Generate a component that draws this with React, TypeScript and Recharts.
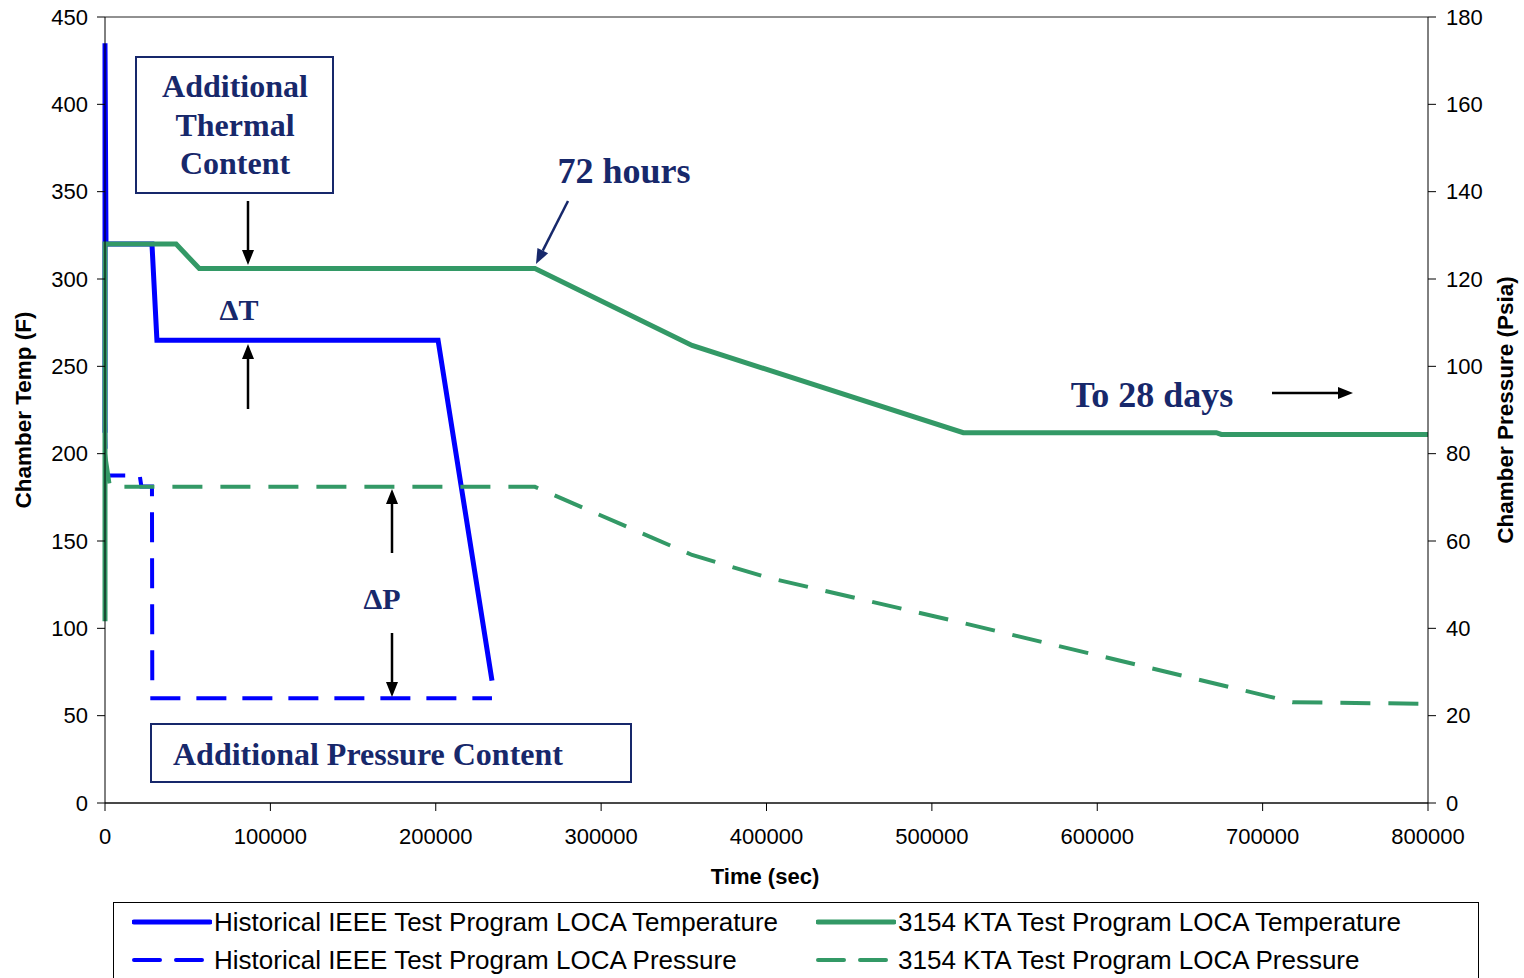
import React from 'react';
import { LineChart, Line, XAxis, YAxis, CartesianGrid } from 'recharts';

// time (sec) / value pairs
const ieeeTemp = [
  { t: 0, v: 212 },
  { t: 0, v: 435 },
  { t: 600, v: 320 },
  { t: 28400, v: 320 },
  { t: 31400, v: 265 },
  { t: 201400, v: 265 },
  { t: 234000, v: 70 },
];

const ieeePres = [
  { t: 0, v: 88 },
  { t: 600, v: 75 },
  { t: 21000, v: 75 },
  { t: 22000, v: 72.5 },
  { t: 28400, v: 72.5 },
  { t: 28600, v: 24 },
  { t: 234000, v: 24 },
];

const ktaTemp = [
  { t: 0, v: 104 },
  { t: 0, v: 320 },
  { t: 43000, v: 320 },
  { t: 57000, v: 306 },
  { t: 260000, v: 306 },
  { t: 355000, v: 262 },
  { t: 519000, v: 212 },
  { t: 672000, v: 212 },
  { t: 675000, v: 211 },
  { t: 800000, v: 211 },
];

const ktaPres = [
  { t: 0, v: 80 },
  { t: 3000, v: 72.4 },
  { t: 260000, v: 72.4 },
  { t: 355000, v: 56.8 },
  { t: 400000, v: 51.7 },
  { t: 519000, v: 41.2 },
  { t: 718000, v: 23.1 },
  { t: 800000, v: 22.7 },
];

const timeTicks = [0, 100000, 200000, 300000, 400000, 500000, 600000, 700000, 800000];
const tempTicks = [0, 50, 100, 150, 200, 250, 300, 350, 400, 450];
const presTicks = [0, 20, 40, 60, 80, 100, 120, 140, 160, 180];

const BLUE = '#0000FF';
const GREEN = '#339966';
const NAVY = '#17286b';
const SANS = '"Liberation Sans", Arial, sans-serif';
const SERIF = '"Liberation Serif", "Times New Roman", serif';

const tickStyle = { fontSize: 22, fill: '#000', fontFamily: SANS };

function Arrow({ x1, y1, x2, y2, color = '#000' }: { x1: number; y1: number; x2: number; y2: number; color?: string }) {
  const ang = Math.atan2(y2 - y1, x2 - x1);
  const len = 15;
  const w = 6;
  const bx = x2 - len * Math.cos(ang);
  const by = y2 - len * Math.sin(ang);
  const px = -Math.sin(ang) * w;
  const py = Math.cos(ang) * w;
  return (
    <g>
      <line x1={x1} y1={y1} x2={bx} y2={by} stroke={color} strokeWidth={2.5} />
      <polygon points={`${x2},${y2} ${bx + px},${by + py} ${bx - px},${by - py}`} fill={color} />
    </g>
  );
}

function LegendItem({ color, dashed, label }: { color: string; dashed?: boolean; label: string }) {
  return (
    <div style={{ display: 'flex', alignItems: 'center', height: 38 }}>
      <svg width={80} height={10} style={{ marginRight: 2 }}>
        <line
          x1={2}
          y1={5}
          x2={78}
          y2={5}
          stroke={color}
          strokeWidth={dashed ? 4 : 5}
          strokeDasharray={dashed ? '26 16' : undefined}
          strokeLinecap="round"
        />
      </svg>
      <span style={{ fontFamily: SANS, fontSize: 26, color: '#000', whiteSpace: 'nowrap' }}>{label}</span>
    </div>
  );
}

export default function App() {
  return (
    <div style={{ position: 'absolute', left: 0, top: 0, width: 1524, height: 978, background: '#fff', overflow: 'hidden' }}>
      <LineChart width={1524} height={978} margin={{ top: 17, right: 36, left: 45, bottom: 135 }}>
        <CartesianGrid vertical={false} stroke="#222" strokeWidth={1} />
        <XAxis
          dataKey="t"
          type="number"
          domain={[0, 800000]}
          ticks={timeTicks}
          allowDuplicatedCategory={false}
          stroke="#000"
          tick={tickStyle}
          tickSize={8}
          tickMargin={17}
          height={40}
          interval={0}
        />
        <YAxis
          yAxisId="temp"
          orientation="left"
          domain={[0, 450]}
          ticks={tempTicks}
          stroke="#000"
          tick={tickStyle}
          tickSize={8}
          tickMargin={9}
          width={60}
          interval={0}
        />
        <YAxis
          yAxisId="pres"
          orientation="right"
          domain={[0, 180]}
          ticks={presTicks}
          stroke="#000"
          tick={tickStyle}
          tickSize={8}
          tickMargin={10}
          width={60}
          interval={0}
        />
        <Line
          yAxisId="pres"
          data={ieeePres}
          dataKey="v"
          type="linear"
          stroke={BLUE}
          strokeWidth={4}
          strokeDasharray="30 16"
          dot={false}
          isAnimationActive={false}
        />
        <Line
          yAxisId="temp"
          data={ieeeTemp}
          dataKey="v"
          type="linear"
          stroke={BLUE}
          strokeWidth={5}
          dot={false}
          isAnimationActive={false}
        />
        <Line
          yAxisId="pres"
          data={ktaPres}
          dataKey="v"
          type="linear"
          stroke={GREEN}
          strokeWidth={4}
          strokeDasharray="30 18"
          dot={false}
          isAnimationActive={false}
        />
        <Line
          yAxisId="temp"
          data={ktaTemp}
          dataKey="v"
          type="linear"
          stroke={GREEN}
          strokeWidth={5}
          dot={false}
          isAnimationActive={false}
        />
      </LineChart>

      <svg width={1524} height={978} style={{ position: 'absolute', left: 0, top: 0, pointerEvents: 'none' }}>
        {/* axis titles */}
        <text x={31} y={410} transform="rotate(-90 31 410)" textAnchor="middle" fontFamily={SANS} fontWeight="bold" fontSize={22.5}>
          Chamber Temp (F)
        </text>
        <text x={1513} y={410} transform="rotate(-90 1513 410)" textAnchor="middle" fontFamily={SANS} fontWeight="bold" fontSize={22.5}>
          Chamber Pressure (Psia)
        </text>
        <text x={765} y={884} textAnchor="middle" fontFamily={SANS} fontWeight="bold" fontSize={22}>
          Time (sec)
        </text>

        {/* thermal content box */}
        <rect x={136} y={57} width={197} height={136} fill="#fff" stroke={NAVY} strokeWidth={2} />
        <g fontFamily={SERIF} fontWeight="bold" fontSize={32} fill={NAVY} textAnchor="middle">
          <text x={235} y={97}>Additional</text>
          <text x={235} y={136}>Thermal</text>
          <text x={235} y={174}>Content</text>
        </g>
        <Arrow x1={248} y1={201} x2={248} y2={265} />
        <text x={239} y={320} textAnchor="middle" fontFamily={SERIF} fontWeight="bold" fontSize={30} fill={NAVY}>
          ΔT
        </text>
        <Arrow x1={248} y1={409} x2={248} y2={344} />

        {/* 72 hours */}
        <text x={624} y={183} textAnchor="middle" fontFamily={SERIF} fontWeight="bold" fontSize={36} fill={NAVY}>
          72 hours
        </text>
        <Arrow x1={568} y1={201} x2={536} y2={264} color={NAVY} />

        {/* to 28 days */}
        <text x={1152} y={407} textAnchor="middle" fontFamily={SERIF} fontWeight="bold" fontSize={36} fill={NAVY}>
          To 28 days
        </text>
        <Arrow x1={1272} y1={393} x2={1353} y2={393} />

        {/* pressure delta */}
        <Arrow x1={392} y1={553} x2={392} y2={489} />
        <text x={382} y={609} textAnchor="middle" fontFamily={SERIF} fontWeight="bold" fontSize={30} fill={NAVY}>
          ΔP
        </text>
        <Arrow x1={392} y1={633} x2={392} y2={697} />

        {/* pressure content box */}
        <rect x={151} y={724} width={480} height={58} fill="#fff" stroke={NAVY} strokeWidth={2} />
        <text x={173} y={765} fontFamily={SERIF} fontWeight="bold" fontSize={32} fill={NAVY}>
          Additional Pressure Content
        </text>
      </svg>

      {/* legend */}
      <div
        style={{
          position: 'absolute',
          left: 113,
          top: 902,
          width: 1366,
          height: 100,
          border: '1.5px solid #000',
          background: '#fff',
          boxSizing: 'border-box',
          display: 'flex',
          paddingLeft: 18,
          paddingTop: 0,
        }}
      >
        <div style={{ width: 684 }}>
          <LegendItem color={BLUE} label="Historical IEEE Test Program LOCA Temperature" />
          <LegendItem color={BLUE} dashed label="Historical IEEE Test Program LOCA Pressure" />
        </div>
        <div>
          <LegendItem color={GREEN} label="3154 KTA Test Program LOCA Temperature" />
          <LegendItem color={GREEN} dashed label="3154 KTA Test Program LOCA Pressure" />
        </div>
      </div>
    </div>
  );
}
